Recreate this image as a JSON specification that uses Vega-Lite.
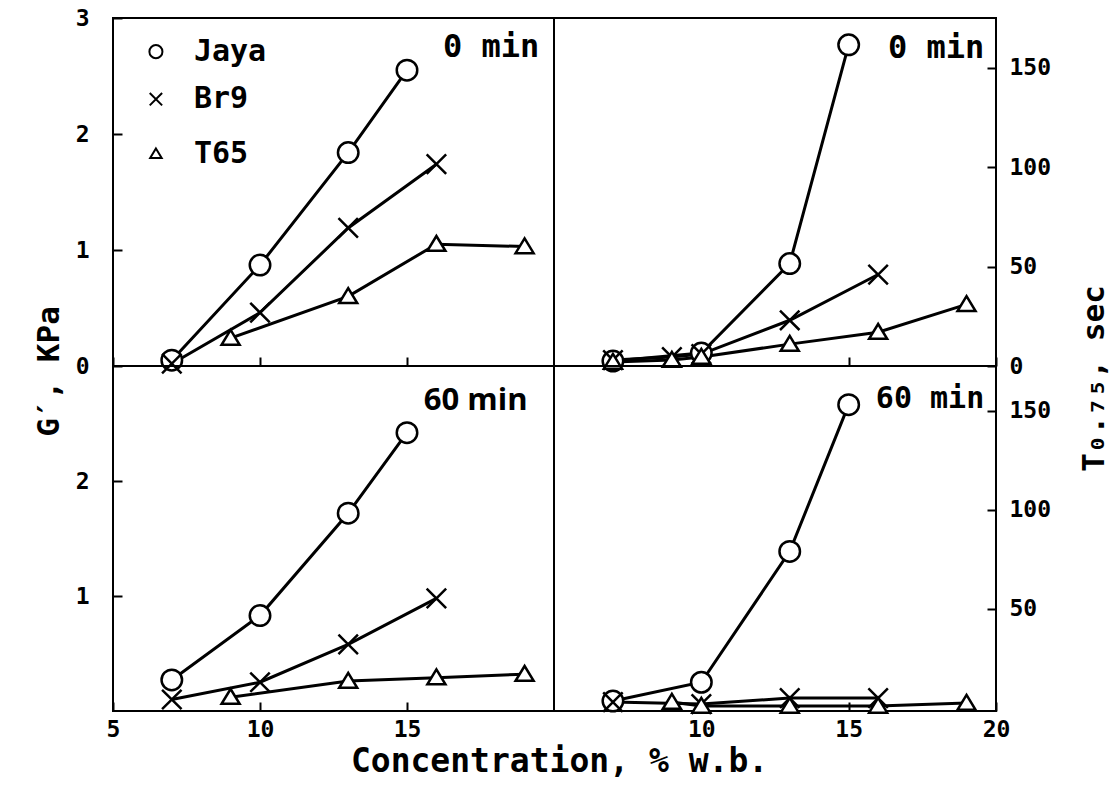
{
  "$schema": "https://vega.github.io/schema/vega-lite/v6.json",
  "autosize": {"type": "pad"},
  "padding": {"left": 32, "top": 6, "right": 5, "bottom": 5},
  "background": "white",
  "datasets": {
    "tl": [
      {"variety": "Jaya", "conc": 7, "val": 0.05},
      {"variety": "Jaya", "conc": 10, "val": 0.87},
      {"variety": "Jaya", "conc": 13, "val": 1.84},
      {"variety": "Jaya", "conc": 15, "val": 2.55},
      {"variety": "Br9", "conc": 7, "val": 0.02},
      {"variety": "Br9", "conc": 10, "val": 0.46},
      {"variety": "Br9", "conc": 13, "val": 1.19},
      {"variety": "Br9", "conc": 16, "val": 1.74},
      {"variety": "T65", "conc": 9, "val": 0.24},
      {"variety": "T65", "conc": 13, "val": 0.6},
      {"variety": "T65", "conc": 16, "val": 1.05},
      {"variety": "T65", "conc": 19, "val": 1.03}
    ],
    "key": [
      {"variety": "Jaya", "conc": 6.46, "val": 2.71},
      {"variety": "Br9", "conc": 6.46, "val": 2.3},
      {"variety": "T65", "conc": 6.46, "val": 1.83}
    ],
    "tr": [
      {"variety": "Jaya", "conc": 7, "val": 2.5},
      {"variety": "Jaya", "conc": 10, "val": 6.5},
      {"variety": "Jaya", "conc": 13, "val": 51.5},
      {"variety": "Jaya", "conc": 15, "val": 161.5},
      {"variety": "Br9", "conc": 7, "val": 3},
      {"variety": "Br9", "conc": 9, "val": 4.5},
      {"variety": "Br9", "conc": 10, "val": 6},
      {"variety": "Br9", "conc": 13, "val": 23},
      {"variety": "Br9", "conc": 16, "val": 46},
      {"variety": "T65", "conc": 7, "val": 2},
      {"variety": "T65", "conc": 9, "val": 3},
      {"variety": "T65", "conc": 10, "val": 4.5},
      {"variety": "T65", "conc": 13, "val": 11},
      {"variety": "T65", "conc": 16, "val": 17},
      {"variety": "T65", "conc": 19, "val": 31}
    ],
    "bl": [
      {"variety": "Jaya", "conc": 7, "val": 0.27},
      {"variety": "Jaya", "conc": 10, "val": 0.83},
      {"variety": "Jaya", "conc": 13, "val": 1.72},
      {"variety": "Jaya", "conc": 15, "val": 2.42},
      {"variety": "Br9", "conc": 7, "val": 0.1},
      {"variety": "Br9", "conc": 10, "val": 0.25},
      {"variety": "Br9", "conc": 13, "val": 0.58},
      {"variety": "Br9", "conc": 16, "val": 0.98},
      {"variety": "T65", "conc": 9, "val": 0.12},
      {"variety": "T65", "conc": 13, "val": 0.26},
      {"variety": "T65", "conc": 16, "val": 0.29},
      {"variety": "T65", "conc": 19, "val": 0.32}
    ],
    "br": [
      {"variety": "Jaya", "conc": 7, "val": 3.5},
      {"variety": "Jaya", "conc": 10, "val": 13},
      {"variety": "Jaya", "conc": 13, "val": 79},
      {"variety": "Jaya", "conc": 15, "val": 153},
      {"variety": "Br9", "conc": 7, "val": 3},
      {"variety": "Br9", "conc": 10, "val": 2},
      {"variety": "Br9", "conc": 13, "val": 5},
      {"variety": "Br9", "conc": 16, "val": 5},
      {"variety": "T65", "conc": 9, "val": 3},
      {"variety": "T65", "conc": 10, "val": 1},
      {"variety": "T65", "conc": 13, "val": 1},
      {"variety": "T65", "conc": 16, "val": 1},
      {"variety": "T65", "conc": 19, "val": 2.5}
    ]
  },
  "config": {
    "font": "DejaVu Sans Mono",
    "view": {"stroke": "black", "strokeWidth": 2},
    "axis": {
      "domain": false,
      "grid": false,
      "tickColor": "black",
      "tickSize": -9,
      "tickWidth": 2,
      "labelFont": "DejaVu Sans Mono",
      "labelFontWeight": "bold",
      "labelFontSize": 23,
      "labelColor": "black",
      "titleFont": "DejaVu Sans Mono",
      "titleFontWeight": "bold",
      "titleColor": "black"
    }
  },
  "columns": 2,
  "spacing": 0,
  "bounds": "flush",
  "resolve": {"scale": {"y": "independent", "shape": "independent"}, "legend": {"shape": "independent"}},
  "concat": [
    {
      "width": 441,
      "height": 348,
      "data": {"name": "tl"},
      "encoding": {
        "x": {"field": "conc", "type": "quantitative", "scale": {"domain": [5, 20], "nice": false, "zero": false}, "axis": {"values": [5, 10, 15], "labels": false, "title": null}},
        "y": {"field": "val", "type": "quantitative", "scale": {"domain": [0, 3], "nice": false}, "axis": {"orient": "left", "values": [0, 1, 2, 3], "labelPadding": 33, "title": "G′, KPa", "titleFontSize": 31, "titleAngle": 270, "titleX": -64, "titleY": 353, "titleAlign": "center", "titleBaseline": "middle"}}
      },
      "layer": [
        {"mark": {"type": "line", "color": "black", "strokeWidth": 3}, "encoding": {"detail": {"field": "variety"}}},
        {
          "mark": {"type": "point", "filled": false, "fill": "white", "fillOpacity": 1, "stroke": "black", "strokeWidth": 2.5, "opacity": 1, "size": 420},
          "encoding": {
            "shape": {"field": "variety", "type": "nominal", "scale": {"domain": ["Jaya", "Br9", "T65"], "range": ["circle", "M-0.95,-0.95L0.95,0.95M0.95,-0.95L-0.95,0.95", "M0,-0.8L0.88,0.65L-0.88,0.65Z"]}, "legend": null}
          }
        },
        {
          "data": {"name": "key"},
          "mark": {"type": "point", "filled": false, "fill": "white", "fillOpacity": 1, "stroke": "black", "strokeWidth": 2, "opacity": 1, "size": 170},
          "encoding": {"shape": {"field": "variety", "type": "nominal", "legend": null}}
        },
        {
          "data": {"name": "key"},
          "mark": {"type": "text", "align": "left", "baseline": "middle", "dx": 38, "font": "DejaVu Sans Mono", "fontSize": 30, "fontWeight": "bold", "color": "black"},
          "encoding": {"text": {"field": "variety"}}
        },
        {
          "data": {"values": [{"conc": 19.5, "val": 2.75, "label": "0 min"}]},
          "mark": {"type": "text", "align": "right", "baseline": "middle", "font": "DejaVu Sans Mono", "fontSize": 32, "fontWeight": "bold", "color": "black"},
          "encoding": {"text": {"field": "label"}}
        }
      ]
    },
    {
      "width": 442,
      "height": 348,
      "data": {"name": "tr"},
      "encoding": {
        "x": {"field": "conc", "type": "quantitative", "scale": {"domain": [5, 20], "nice": false, "zero": false}, "axis": {"values": [10, 15, 20], "labels": false, "title": null}},
        "y": {"field": "val", "type": "quantitative", "scale": {"domain": [0, 175], "nice": false}, "axis": {"orient": "right", "values": [0, 50, 100, 150], "labelPadding": 22, "title": "T₀.₇₅, sec", "titleFontSize": 31, "titleAngle": 270, "titleX": 98, "titleY": 360, "titleAlign": "center", "titleBaseline": "middle"}}
      },
      "layer": [
        {"mark": {"type": "line", "color": "black", "strokeWidth": 3}, "encoding": {"detail": {"field": "variety"}}},
        {
          "mark": {"type": "point", "filled": false, "fill": "white", "fillOpacity": 1, "stroke": "black", "strokeWidth": 2.5, "opacity": 1, "size": 420},
          "encoding": {
            "shape": {"field": "variety", "type": "nominal", "scale": {"domain": ["Jaya", "Br9", "T65"], "range": ["circle", "M-0.95,-0.95L0.95,0.95M0.95,-0.95L-0.95,0.95", "M0,-0.8L0.88,0.65L-0.88,0.65Z"]}, "legend": null}
          }
        },
        {
          "data": {"values": [{"conc": 19.6, "val": 160, "label": "0 min"}]},
          "mark": {"type": "text", "align": "right", "baseline": "middle", "font": "DejaVu Sans Mono", "fontSize": 32, "fontWeight": "bold", "color": "black"},
          "encoding": {"text": {"field": "label"}}
        }
      ]
    },
    {
      "width": 441,
      "height": 345,
      "data": {"name": "bl"},
      "encoding": {
        "x": {"field": "conc", "type": "quantitative", "scale": {"domain": [5, 20], "nice": false, "zero": false}, "axis": {"values": [5, 10, 15], "labelFlush": false, "labelPadding": 16, "title": "Concentration, % w.b.", "titleFontSize": 33, "titleX": 446, "titleY": 50, "titleAlign": "center", "titleBaseline": "middle"}},
        "y": {"field": "val", "type": "quantitative", "scale": {"domain": [0, 3], "nice": false}, "axis": {"orient": "left", "values": [1, 2], "labelPadding": 33, "title": null}}
      },
      "layer": [
        {"mark": {"type": "line", "color": "black", "strokeWidth": 3}, "encoding": {"detail": {"field": "variety"}}},
        {
          "mark": {"type": "point", "filled": false, "fill": "white", "fillOpacity": 1, "stroke": "black", "strokeWidth": 2.5, "opacity": 1, "size": 420},
          "encoding": {
            "shape": {"field": "variety", "type": "nominal", "scale": {"domain": ["Jaya", "Br9", "T65"], "range": ["circle", "M-0.95,-0.95L0.95,0.95M0.95,-0.95L-0.95,0.95", "M0,-0.8L0.88,0.65L-0.88,0.65Z"]}, "legend": null}
          }
        },
        {
          "data": {"values": [{"conc": 19.1, "val": 2.7, "label": "60 min"}]},
          "mark": {"type": "text", "align": "right", "baseline": "middle", "font": "Open Sans", "fontSize": 31, "fontWeight": "bold", "color": "black"},
          "encoding": {"text": {"field": "label"}}
        }
      ]
    },
    {
      "width": 442,
      "height": 345,
      "data": {"name": "br"},
      "encoding": {
        "x": {"field": "conc", "type": "quantitative", "scale": {"domain": [5, 20], "nice": false, "zero": false}, "axis": {"values": [10, 15, 20], "labelFlush": false, "labelPadding": 16, "title": null}},
        "y": {"field": "val", "type": "quantitative", "scale": {"domain": [-1.5, 172.5], "nice": false}, "axis": {"orient": "right", "values": [50, 100, 150], "labelPadding": 22, "title": null}}
      },
      "layer": [
        {"mark": {"type": "line", "color": "black", "strokeWidth": 3}, "encoding": {"detail": {"field": "variety"}}},
        {
          "mark": {"type": "point", "filled": false, "fill": "white", "fillOpacity": 1, "stroke": "black", "strokeWidth": 2.5, "opacity": 1, "size": 420},
          "encoding": {
            "shape": {"field": "variety", "type": "nominal", "scale": {"domain": ["Jaya", "Br9", "T65"], "range": ["circle", "M-0.95,-0.95L0.95,0.95M0.95,-0.95L-0.95,0.95", "M0,-0.8L0.88,0.65L-0.88,0.65Z"]}, "legend": null}
          }
        },
        {
          "data": {"values": [{"conc": 19.6, "val": 156, "label": "60 min"}]},
          "mark": {"type": "text", "align": "right", "baseline": "middle", "font": "DejaVu Sans Mono", "fontSize": 30, "fontWeight": "bold", "color": "black"},
          "encoding": {"text": {"field": "label"}}
        }
      ]
    }
  ]
}
